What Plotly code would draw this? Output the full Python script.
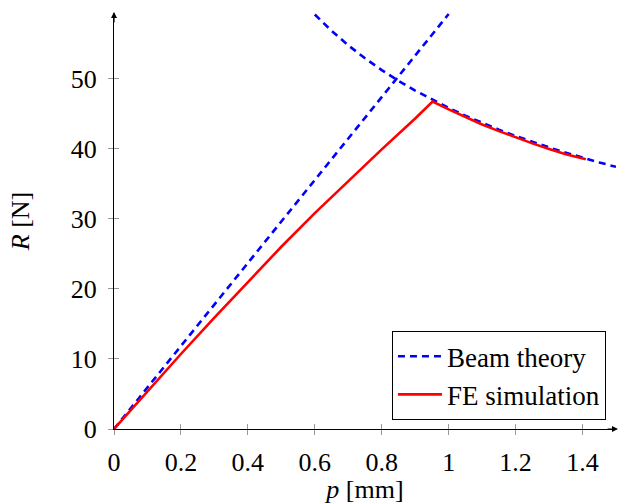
import plotly.graph_objects as go

# Beam theory: linear branch and post-buckling branch
beam_lin_p = [0.0, 1.0]
beam_lin_R = [0.0, 59.2]
beam_post_p = [0.6, 0.65, 0.7, 0.75, 0.8, 0.85, 0.9, 0.95, 1.0, 1.05, 1.1, 1.15,
               1.2, 1.25, 1.3, 1.35, 1.4, 1.45, 1.5]
beam_post_R = [59.13, 56.81, 54.74, 52.89, 51.21, 49.68, 48.28, 46.99, 45.80, 44.70,
               43.67, 42.71, 41.81, 40.97, 40.17, 39.42, 38.71, 38.03, 37.40]

# FE simulation
fe_p = [0.0, 0.1, 0.2, 0.3, 0.4, 0.5, 0.6, 0.7, 0.8, 0.9, 0.952,
        1.0, 1.05, 1.1, 1.15, 1.2, 1.25, 1.3, 1.35, 1.41]
fe_R = [0.0, 5.4, 10.7, 15.9, 21.0, 26.0, 30.8, 35.4, 39.9, 44.3, 46.7,
        45.6, 44.5, 43.45, 42.5, 41.6, 40.75, 39.95, 39.2, 38.5]

x_ticks = [0, 0.2, 0.4, 0.6, 0.8, 1.0, 1.2, 1.4]
y_ticks = [0, 10, 20, 30, 40, 50]

FONT = "Liberation Serif"
BLUE = "#0000ff"
RED = "#ff0000"

fig = go.Figure()
fig.add_trace(go.Scatter(x=beam_lin_p + [None] + beam_post_p,
                         y=beam_lin_R + [None] + beam_post_R,
                         mode="lines", name="Beam theory",
                         line=dict(color=BLUE, width=2.6, dash="7px,5px"),
                         connectgaps=False))
fig.add_trace(go.Scatter(x=fe_p, y=fe_R, mode="lines", name="FE simulation",
                         line=dict(color=RED, width=2.6)))
# invisible trace to anchor the overlay axes (inside tick halves)
fig.add_trace(go.Scatter(x=[None], y=[None], xaxis="x2", yaxis="y2",
                         showlegend=False, hoverinfo="skip"))

XR = [0, 1.5]
YR = [0, 59.35]

fig.update_layout(
    width=619, height=504,
    margin=dict(l=114, r=3, t=13, b=73),
    paper_bgcolor="white", plot_bgcolor="white",
    font=dict(family=FONT, size=26, color="black"),
    showlegend=True,
    legend=dict(x=0.98, y=0.021, xanchor="right", yanchor="bottom",
                bordercolor="black", borderwidth=1, bgcolor="white",
                font=dict(family=FONT, size=27), tracegroupgap=0,
                itemwidth=44),
    xaxis=dict(range=XR, showgrid=False, zeroline=False, showline=True,
               linecolor="black", linewidth=1.2, ticks="outside", ticklen=5,
               tickcolor="#999999", tickwidth=1, tickvals=x_ticks,
               ticklabelstandoff=5,
               title=dict(text="<i>p</i> [mm]", standoff=6,
                          font=dict(family=FONT, size=26))),
    yaxis=dict(range=YR, showgrid=False, zeroline=False, showline=True,
               linecolor="black", linewidth=1.2, ticks="outside", ticklen=5,
               tickcolor="#999999", tickwidth=1, tickvals=y_ticks,
               ticklabelstandoff=6,
               title=dict(text="<i>R</i> [N]", standoff=33,
                          font=dict(family=FONT, size=26))),
    xaxis2=dict(range=XR, overlaying="x", showgrid=False, zeroline=False,
                showline=False, ticks="inside", ticklen=5, tickcolor="#999999",
                tickwidth=1, tickvals=x_ticks, showticklabels=False),
    yaxis2=dict(range=YR, overlaying="y", showgrid=False, zeroline=False,
                showline=False, ticks="inside", ticklen=5, tickcolor="#999999",
                tickwidth=1, tickvals=y_ticks, showticklabels=False),
)

# arrow heads at axis ends
fig.add_annotation(x=1.0, y=0, xref="paper", yref="paper", ax=-12, ay=0,
                   xshift=2, showarrow=True, arrowhead=2, arrowsize=1,
                   arrowwidth=1.2, arrowcolor="black", text="")
fig.add_annotation(x=0, y=1.0, xref="paper", yref="paper", ax=0, ay=12,
                   yshift=1, showarrow=True, arrowhead=2, arrowsize=1,
                   arrowwidth=1.2, arrowcolor="black", text="")

fig.write_html("out.html")
